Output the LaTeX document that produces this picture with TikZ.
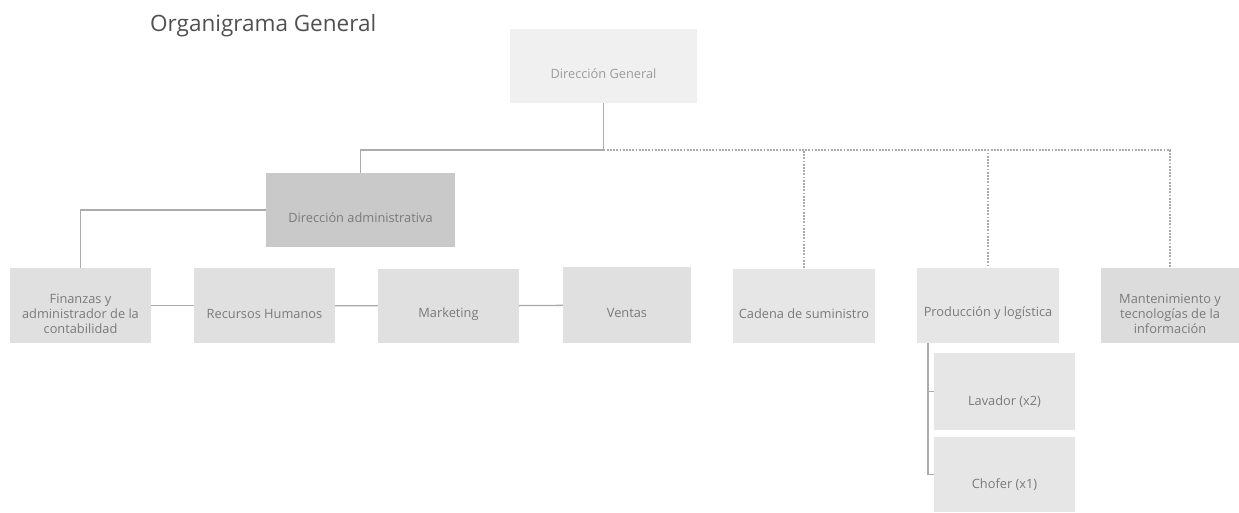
\documentclass[tikz,border=0pt]{standalone}
\usepackage{fontspec}
\setmainfont{Open Sans}
\definecolor{linecol}{HTML}{ABABAB}
\definecolor{txtcol}{HTML}{7A7A7A}
\definecolor{fillA}{HTML}{F0F0F0}
\definecolor{fillB}{HTML}{C9C9C9}
\definecolor{fillC}{HTML}{E0E0E0}
\definecolor{fillD}{HTML}{E6E6E6}
\definecolor{fillE}{HTML}{DCDCDC}
\definecolor{titlecol}{HTML}{505050}
\tikzset{
  box/.style={fill=#1, draw=none, inner sep=0pt},
  lbl/.style={yshift=-8pt, align=center, text=txtcol, inner sep=0pt,
    font=\fontsize{12.8}{15}\selectfont},
  solidcon/.style={draw=linecol, line width=1.3pt},
  dashcon/.style={draw=linecol, line width=1.3pt, dash pattern=on 1.8pt off 1.4pt},
}
\begin{document}
\begin{tikzpicture}[x=1pt,y=-1pt]
\useasboundingbox (0,0) rectangle (1239,513);
\node[text=titlecol, font=\fontsize{22.5}{26}\selectfont, anchor=west, inner sep=0pt] (title) at (150,26) {Organigrama General};

\node[box=fillA, minimum width=187pt, minimum height=74pt, label={[lbl,text=txtcol!75]center:Dirección General}] (dg) at (603.5,66) {};
\node[box=fillB, minimum width=189pt, minimum height=74pt, label={[lbl]center:Dirección administrativa}] (da) at (360.5,210) {};
\node[box=fillC, minimum width=141pt, minimum height=75pt, label={[lbl]center:{Finanzas y\\administrador de la\\contabilidad}}] (fin) at (80.5,305.5) {};
\node[box=fillC, minimum width=141pt, minimum height=75pt, label={[lbl]center:Recursos Humanos}] (rh) at (264.5,305.5) {};
\node[box=fillC, minimum width=141pt, minimum height=74pt, label={[lbl]center:Marketing}] (mk) at (448.5,306) {};
\node[box=fillC, minimum width=128pt, minimum height=76pt, label={[lbl]center:Ventas}] (vt) at (627,305) {};
\node[box=fillD, minimum width=142pt, minimum height=74pt, label={[lbl]center:Cadena de suministro}] (cs) at (804,306) {};
\node[box=fillD, minimum width=142pt, minimum height=75pt, label={[lbl]center:Producción y logística}] (pl) at (988,305.5) {};
\node[box=fillE, minimum width=138pt, minimum height=75pt, label={[lbl]center:{Mantenimiento y\\tecnologías de la\\información}}] (mt) at (1170,305.5) {};
\node[box=fillD, minimum width=141pt, minimum height=77pt, label={[lbl,yshift=-2pt]center:Lavador (x2)}] (lav) at (1004.5,391.5) {};
\node[box=fillD, minimum width=141pt, minimum height=75pt, label={[lbl,yshift=-2pt]center:Chofer (x1)}] (cho) at (1004.5,474.5) {};

\coordinate (hub) at (603.5,150);
\coordinate (pv) at (928,343);

\draw[dashcon] (hub) -| (cs.north);
\draw[dashcon] (hub) -| (pl.north);
\draw[dashcon] (hub) -| (mt.north);
\draw[solidcon] (dg.south) -- (hub) -| (da.north);
\draw[solidcon] (da.west) -| (fin.north);
\draw[solidcon] (fin) -- (rh);
\draw[solidcon] (rh) -- (mk);
\draw[solidcon] (mk) -- (vt);
\draw[solidcon] (pv) |- (lav.west);
\draw[solidcon] (pv) |- (cho.west);
\end{tikzpicture}
\end{document}
